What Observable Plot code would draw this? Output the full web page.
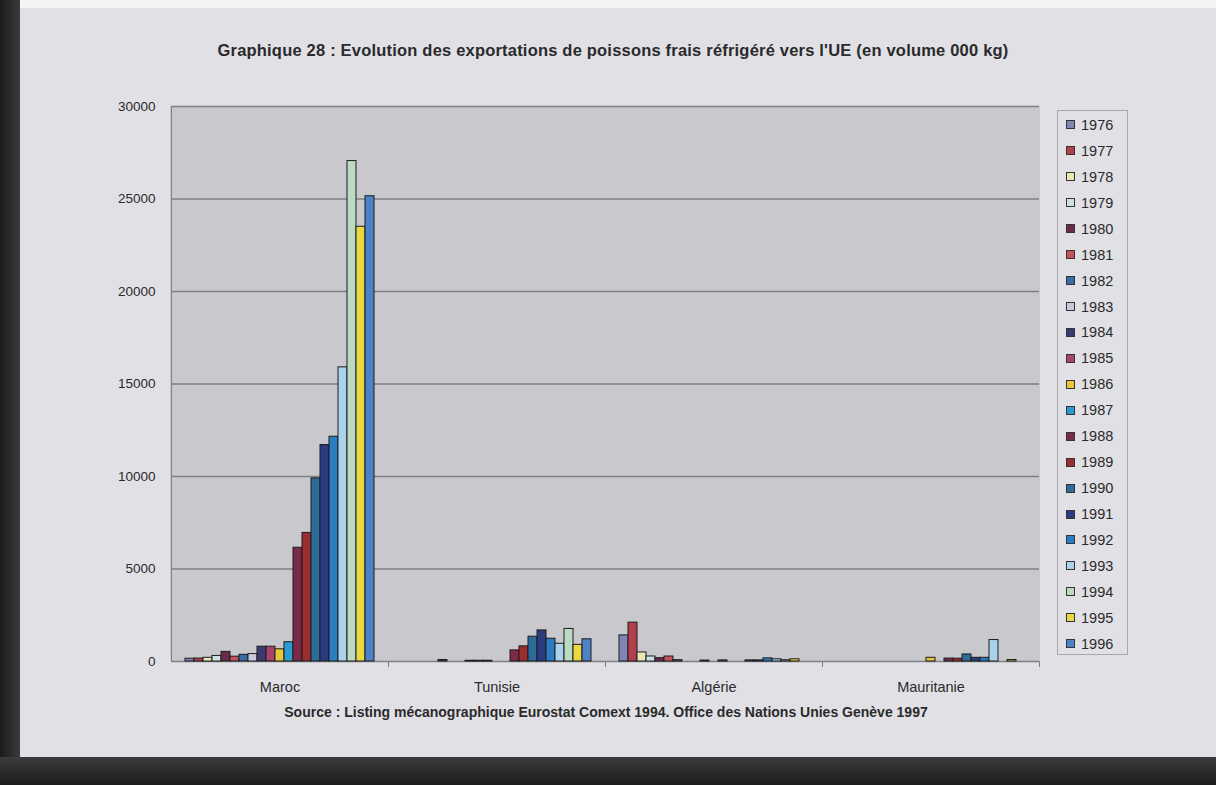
<!DOCTYPE html>
<html>
<head>
<meta charset="utf-8">
<script src="https://cdn.jsdelivr.net/npm/d3@7"></script>
<script src="https://cdn.jsdelivr.net/npm/@observablehq/plot@0.6"></script>
<style>
  html, body { margin: 0; padding: 0; }
  body { width: 1216px; height: 785px; position: relative; overflow: hidden; background: #e1e1e5; font-family: "Liberation Sans", Arial, sans-serif; color: #2a2a2c; }
  #edgeLeft { position: absolute; left: 0; top: 0; width: 20px; height: 785px; background: linear-gradient(to right, #1b1b1d, #3a3a3c); }
  #edgeBottom { position: absolute; left: 0; top: 757px; width: 1216px; height: 28px; background: linear-gradient(to bottom, #3c3c3e, #1c1c1e); }
  #edgeTop { position: absolute; left: 0; top: 0; width: 1216px; height: 8px; background: #f4f4f6; }
  #title { position: absolute; left: 0; width: 1226px; top: 41px; text-align: center; font-weight: bold; font-size: 16.5px; letter-spacing: 0.2px; }
  #plotArea { position: absolute; left: 170px; top: 106px; width: 870px; height: 555px; background: #c8c8cd; }
  #chart { position: absolute; left: 0; top: 0; }
  #source { position: absolute; left: 0; width: 1212px; top: 704px; text-align: center; font-weight: bold; font-size: 14px; }
  #legend { position: absolute; left: 1057px; top: 110px; width: 71px; height: 545px; border: 1px solid #a8a8ac; box-sizing: border-box; padding-top: 1px; }
  .item { height: 25.95px; display: flex; align-items: center; font-size: 14.5px; }
  .sw { width: 7px; height: 7px; border: 1px solid #333; margin-left: 8px; margin-right: 6px; }
</style>
</head>
<body>
<div id="edgeTop"></div>
<div id="title">Graphique 28 : Evolution des exportations de poissons frais réfrigéré vers l'UE (en volume 000 kg)</div>
<div id="plotArea"></div>
<div id="chart"></div>
<div id="legend"></div>
<div id="source">Source : Listing mécanographique Eurostat Comext 1994. Office des Nations Unies Genève 1997</div>
<div id="edgeLeft"></div>
<div id="edgeBottom"></div>
<script>
// Exporting countries (category groups)
const countries = ["Maroc", "Tunisie", "Algérie", "Mauritanie"];
// One series per year
const years = ["1976","1977","1978","1979","1980","1981","1982","1983","1984","1985","1986",
               "1987","1988","1989","1990","1991","1992","1993","1994","1995","1996"];
// Export volumes (000 kg), one value per year
const maroc      = [150, 160, 200, 300, 520, 260, 360, 400, 800, 800, 660, 1040, 6150, 6950, 9900, 11700, 12150, 15900, 27050, 23500, 25150];
const tunisie    = [0, 0, 0, 0, 80, 0, 0, 40, 40, 40, 0, 0, 600, 820, 1340, 1680, 1230, 960, 1760, 900, 1200];
const algerie    = [1410, 2100, 490, 270, 180, 270, 70, 0, 0, 50, 0, 60, 0, 0, 60, 60, 170, 120, 70, 120, 0];
const mauritanie = [0, 0, 0, 0, 0, 0, 0, 0, 0, 0, 200, 0, 160, 150, 380, 200, 200, 1160, 0, 80, 0];
const yTicks = [0, 5000, 10000, 15000, 20000, 25000, 30000];
// Series colours
const colors = ["#7f86b4","#b2404c","#ece6b4","#cde3e3","#6b2c4c","#c8525a","#3a6aa8","#cacadc",
                "#3b3a70","#a8436e","#e6c83a","#2c9bd2","#7c2a4a","#9c2c2e","#2d6c99","#2c3a80",
                "#2b7cc0","#aad2ea","#bcd9c2","#e9d842","#4c82c8"];

const series = [maroc, tunisie, algerie, mauritanie];
const rows = countries.flatMap((c, i) =>
  years.map((y, j) => ({country: c, year: y, value: series[i][j]}))
).filter(d => d.value > 0);

const chart = Plot.plot({
  width: 1216,
  height: 700,
  marginLeft: 170,
  marginRight: 176,
  marginTop: 106,
  marginBottom: 39,
  style: {fontFamily: "'Liberation Sans', Arial, sans-serif", color: "#2a2a2c", background: "transparent"},
  fx: {domain: countries, padding: 0, label: null},
  x: {domain: years, paddingInner: 0, paddingOuter: 0.9, axis: null},
  y: {domain: [0, 30000], label: null},
  color: {domain: years, range: colors},
  marks: [
    Plot.gridY(yTicks, {stroke: "#7e7e84", strokeOpacity: 1, strokeWidth: 1.5}),
    Plot.axisY(yTicks, {tickSize: 0, tickPadding: 16, fontSize: 13.5, tickFormat: d => String(d), label: null}),
    Plot.axisFx({anchor: "bottom", tickSize: 0, tickPadding: 20, fontSize: 14.5, label: null}),
    Plot.frame({anchor: "left", facetAnchor: "left", stroke: "#808086"}),
    Plot.frame({anchor: "right", insetTop: 555, insetBottom: -5, stroke: "#808086"}),
    Plot.ruleY([0], {stroke: "#808086"}),
    Plot.barY(rows, {fx: "country", x: "year", y: "value", fill: "year", stroke: "#1c1c1e", strokeWidth: 1})
  ]
});
document.getElementById("chart").appendChild(chart);

// Legend: one swatch per year, stacked vertically
const legend = d3.select("#legend");
const items = legend.selectAll(".item").data(years).join("div").attr("class", "item");
items.append("span").attr("class", "sw").style("background", (d, i) => colors[i]);
items.append("span").text(d => d);
</script>
</body>
</html>
